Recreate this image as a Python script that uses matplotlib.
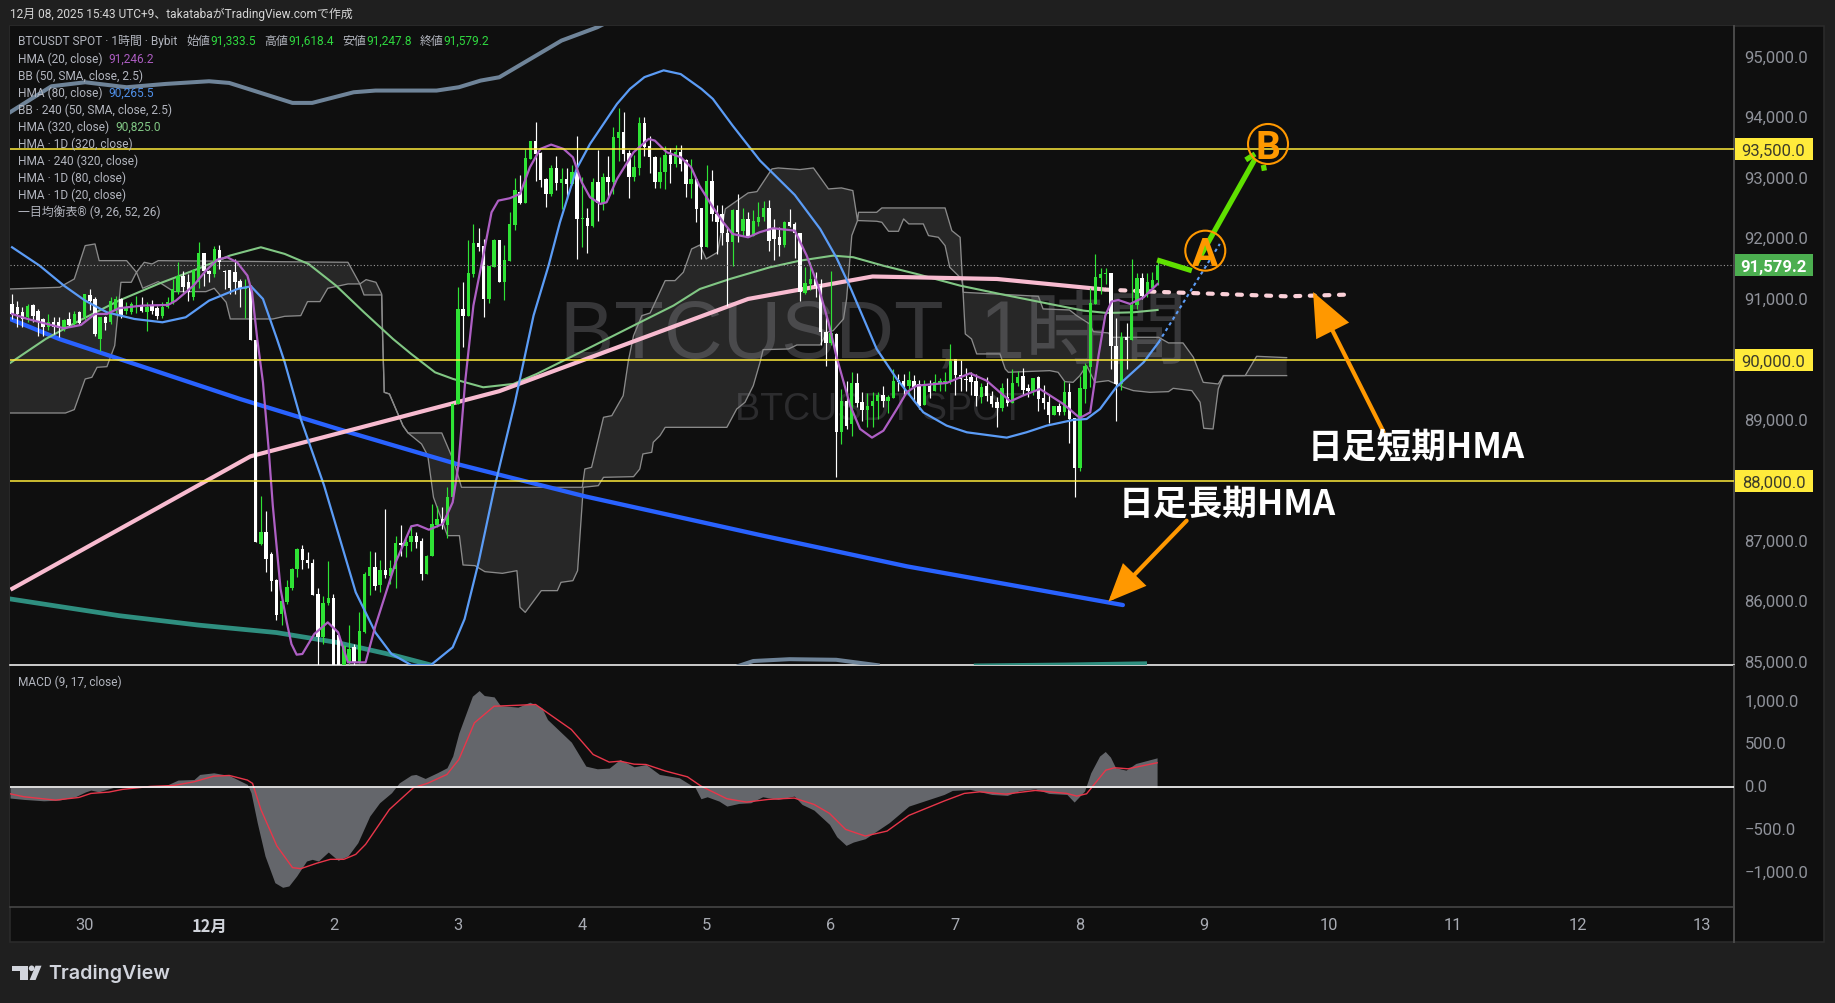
import matplotlib
matplotlib.use("Agg")
import matplotlib.pyplot as plt
from matplotlib.patches import Rectangle, Polygon, Ellipse, FancyArrowPatch
from matplotlib.lines import Line2D
from matplotlib.transforms import blended_transform_factory, ScaledTranslation

W, H = 1835, 1004
FONT = ['Roboto', 'Noto Sans CJK JP', 'DejaVu Sans']
CJK = ['Noto Sans CJK JP', 'DejaVu Sans']
plt.rcParams['font.family'] = FONT

start_hour = -38
opens = [90931,90876,90793,90711,90915,90821,90683,90545,90639,90628,
90545,90683,90600,90793,90711,91080,91014,90353,90711,90639,
90821,91014,90821,90793,90876,90915,90793,90915,90860,90738,
90876,90950,91124,91399,91289,91041,91289,91774,91482,91427,
91829,91482,91490,91455,91317,91179,91234,90340,86965,87168,
86800,86374,85800,86000,86231,86551,86881,86705,86650,86138,
85432,85985,86065,85460,84800,85000,85256,85019,85515,86440,
86578,86286,86534,86440,86550,86980,86936,86992,87100,87008,
86468,86770,87270,87380,87270,87735,89278,90848,90738,91430,
91940,91895,91010,91535,91990,91290,91645,92240,92775,92600,
93330,93630,93425,92995,92750,93175,92930,93000,92915,93120,
92335,92360,92215,92940,92600,93025,92950,93670,93770,93425,
93025,93170,93920,93535,93355,92940,93120,93390,93245,93440,
93315,92915,93000,92510,91870,92970,92420,92420,92100,91950,
92490,92130,92330,92055,92280,92365,92520,92170,92040,91910,
92290,92250,92100,91110,91265,91340,91235,90460,90285,90435,
88810,89333,88950,89625,89306,89185,89240,89320,89430,89320,
89380,89675,89665,89570,89665,89610,89267,89580,89500,89630,
89640,89665,90020,89750,89690,89720,89665,89390,89570,89415,
89305,89205,89390,89295,89620,89735,89537,89490,89720,89377,
89317,89095,89240,89140,89480,89040,88225,89525,89895,90930,
91360,91430,91445,90230,89610,90390,90340,90915,91355,91095,
91190,91333]
closes = [90766,90766,90683,90904,90738,90656,90545,90639,90545,90530,
90672,90584,90766,90617,91096,90986,90435,90711,90617,90986,
91014,90738,90876,90931,90904,90821,90876,90821,90738,90876,
90959,91179,91399,91207,91124,91500,91774,91482,91427,91840,
91620,91466,91190,91289,91179,91207,90340,86990,87168,86716,
86358,85790,86016,86248,86551,86881,86705,86650,86121,85432,
85995,86065,84700,84800,85283,85229,85008,85520,86468,86578,
86275,86534,86457,86562,86980,86950,86992,87100,86992,86468,
86770,87295,87380,87280,87735,89278,90848,90738,91443,91940,
91870,91010,91565,91995,91290,91650,92250,92815,92600,93340,
93630,93410,92985,92750,93175,92930,93000,92915,93120,92335,
92360,92225,92940,92600,93025,92950,93690,93770,93410,93025,
93190,93920,93520,93355,92940,93120,93390,93240,93440,93245,
92915,93000,92500,91870,92970,92420,92280,92100,91950,92490,
92115,92330,92050,92300,92365,92510,91975,92005,91910,92290,
92225,92100,91125,91280,91340,91235,90460,90285,90450,88810,
89320,88920,89620,89295,89185,89240,89335,89430,89330,89400,
89665,89640,89570,89680,89555,89250,89580,89480,89635,89650,
89650,89995,89750,89690,89680,89635,89405,89555,89415,89280,
89205,89535,89295,89620,89730,89515,89490,89700,89360,89295,
89095,89240,89140,89480,89030,88225,89535,89900,90940,91370,
91430,91440,90230,89600,90380,90340,90915,91355,91070,91290,
91330,91579]
highs = [91096,90986,90876,90931,90931,90850,90700,90760,90720,90720,
90680,90800,90810,90810,91100,91180,91040,90720,90740,91040,
91060,91030,90960,90960,91060,91040,90960,91000,90890,90960,
91040,91340,91620,91480,91420,91510,91950,91780,91500,91890,
91900,91500,91500,91680,91340,91340,91240,90340,87763,87510,
86830,86390,86030,86369,86560,86890,86947,86830,86720,86231,
86110,86690,86138,85460,85300,85620,85315,85835,86495,86855,
86830,86700,87540,86700,87100,87280,87050,87270,87160,87060,
86790,87620,87600,87580,87900,89290,91207,91290,91990,92250,
92190,92000,91565,92010,91995,91910,92450,93010,93070,93490,
93630,93935,93440,93010,93220,93380,93175,93180,93220,93700,
93030,92520,93010,93480,93100,93380,93860,94170,94100,93480,
93400,94020,94025,93700,93380,93360,93540,93510,93560,93550,
93320,93320,93000,92510,93220,93150,92560,92560,92200,92500,
92750,92510,92450,92490,92610,92640,92650,92340,92200,92300,
92500,92280,92100,91550,91620,91460,91350,90760,91480,90450,
89520,89650,89800,89790,89480,89460,89470,89480,89570,89430,
89860,89770,89770,89830,89760,89670,89670,89670,89770,89700,
89800,90265,90020,90000,89880,89800,89770,89620,89730,89500,
89400,89630,89710,89850,89830,89880,89600,89700,89740,89590,
89430,89240,89300,89660,89620,89040,89740,89960,91200,91750,
91530,91530,91445,90700,90460,90610,91680,91440,91440,91450,
91460,91618]
lows = [90683,90545,90545,90628,90628,90408,90400,90500,90440,90380,
90480,90545,90560,90590,90670,90830,90400,90150,90500,90600,
90780,90700,90760,90770,90780,90790,90480,90760,90680,90700,
90860,90930,91096,91124,90980,91000,91200,91234,91290,91370,
91510,91180,91100,91100,90880,90700,90330,86990,86950,86500,
86193,85713,85625,85980,86200,86413,86550,86570,86120,84500,
85310,85950,84400,84500,84700,84980,84950,85000,85500,86120,
86200,86165,86400,86300,86230,86770,86750,86850,86900,86370,
86460,86760,87250,87210,87060,87700,89278,90220,90738,91370,
91810,90720,90950,91535,91290,90990,91645,92150,92590,92600,
93330,92970,92860,92530,92710,92810,92500,92660,92890,91680,
91870,91780,92200,92310,92480,92680,92750,93300,93300,92680,
92970,93070,93380,93100,92850,92850,92830,92930,93200,93130,
92700,92690,92280,91680,91870,92300,91755,91900,90900,91560,
91950,92050,92040,92055,92220,92300,91800,91660,91730,91880,
92200,91690,90980,91090,91170,91050,90260,89900,90260,88065,
88617,88870,88750,89230,89000,88900,88900,89030,89230,89130,
89380,89490,89430,89430,89330,89200,89265,89380,89500,89500,
89500,89600,89420,89500,89500,89420,89250,89290,89330,89230,
88900,89170,89240,89295,89570,89430,89400,89430,89170,89190,
88970,89095,89100,89090,88630,87740,88170,89290,89560,90930,
91090,91260,89850,88990,89510,89860,90340,90850,91020,91050,
91190,91248]

# HMA 20
hma20_h = [-38,-35,-28,-24.7,-22,-19.7,-17.4,-12.9,-7.9,-6.4,-3,-0.6,1.6,3.5,5.4,7.4,8.3,9.3,10.4,11.5,12.3,13.8,15,15.9,16.9,18,20.3,22.9,24.9,26.8,30.2,32.1,36,39,40.2,42.4,45.1,47,48.1,49.4,51,52.9,54.5,55.8,58,60,61.9,63.9,66,68.4,70.2,71.9,73.5,75.5,76.7,78.7,81.9,84.8,86,88.3,91,93,94.6,97.2,99.2,101,104,106.2,108.8,113,115.3,117.5,119.5,121,123.7,125.6,127.9,130.1,132.7,134.6,136.5,142.3,146.8,150,154.6,157,160.3,164.8,168,170,171.6,172.9,174.1,175.4,177.7,180.3,183]
hma20_p = [90766,90683,90529,90584,90766,90766,90860,90904,90915,90986,91234,91482,91664,91703,91620,91400,91124,90353,89636,88534,87598,86220,85669,85310,85135,85146,85476,85669,85504,85008,85008,85612,86661,87256,87278,87200,87295,87653,88259,89636,90904,91730,92446,92639,92678,92750,93190,93493,93565,93493,93355,92942,92694,92584,92612,92997,93438,93659,93631,93438,93355,93190,92887,92529,92281,92088,92033,92116,92182,92143,91730,91234,90628,90077,89250,88865,88722,88837,89196,89471,89581,89625,89785,89664,89322,89416,89526,89278,89047,89140,90077,90738,90970,90997,90931,91041,91262]
# HMA 80
hma80_h = [-38,-32.7,-28,-23.9,-19.7,-14.4,-9,-4.5,0,5.5,8.1,10.4,13.1,14.6,17.7,22.2,28.3,32.1,35.2,39,42.8,47,49.3,52,55,59,62.6,65.5,67.7,70.9,73.5,78.7,81.2,84,87.7,91,95,97.2,101,106.3,113,117.9,121,123.7,128.8,132.7,137.8,142.3,146.2,153.9,157.7,161.6,166.7,169.3,171.9,175,180.3,183.2]
hma80_p = [91868,91565,91234,90986,90793,90683,90628,90711,90986,91179,91223,91014,90353,89967,89030,87928,86165,85500,85146,84964,84964,85256,85724,86661,87872,89300,90738,91565,92281,93163,93576,94237,94485,94680,94792,94730,94485,94320,93880,93300,92733,92171,91703,91207,90187,89691,89140,88920,88810,88722,88810,88920,89014,89030,89196,89554,89967,90298]
hma80_ext_h = [183.2,195]
hma80_ext_p = [90298,91923]
# HMA 320
hma320_h = [-38.3,-31.5,-25,-17.4,-9.8,-2.2,4,10,14.6,19.2,24.5,29.9,35.5,39,43.6,47.1,52.9,58.7,63.2,68.4,74.2,82.5,89.6,94.7,100.5,108.2,114,120.4,124.3,130,136.5,144.9,152.6,162.2,168.7,173.2,178.3,183]
hma320_p = [89960,90353,90656,90986,91262,91510,91730,91868,91758,91592,91234,90793,90352,90105,89801,89691,89554,89609,89774,89995,90242,90600,90904,91179,91344,91537,91647,91730,91703,91565,91427,91234,91096,90931,90821,90782,90793,90832]
# daily short-term HMA
hma1d20_h = [-38.3,8,56,104,128,152,173]
hma1d20_p = [86209,88413,89490,91014,91385,91344,91168]
hma1d20_ext_h = [173,183.7,208,219]
hma1d20_ext_p = [91168,91129,91057,91084]
# daily long-term HMA
hma1d320_h = [-38.4,-28.9,6,27,47.8,72.5,94.7,106.3,134.6,176.3]
hma1d320_p = [90683,90352,89360,88810,88286,87752,87332,87112,86595,85955]
# 240 HMA 320
hma240_h = [-38.3,-17.4,-2.2,13,24.5,35.9,42.8]
hma240_p = [86055,85780,85625,85500,85339,85119,84964]
hma240b_h = [148,165,180.5]
hma240b_p = [84950,84965,84985]
# BB 240 bands
bb_up_h = [-38.4,-30.4,-23.9,-15.9,-8.3,0,3.9,16.1,19.9,27.9,32.1,43.9,48.2,52.4,56,68,74.9,78]
bb_up_p = [94099,94529,94595,94513,94568,94612,94584,94254,94254,94430,94458,94458,94513,94623,94678,95284,95504,95640]
bb_lo_h = [102.2,105,112,121,129]
bb_lo_p = [84950,85030,85060,85050,84960]
# Ichimoku cloud
cloud_up_h = [-38.4,-28.8,-27.7,-26,-23.9,-22,-21.2,-15.9,-14,-12.5,-11,-9.8,26.8,29.1,30.3,32.2,33.3,33.5,33.8,34.8,37.4,38.4,44.9,47.3,48.7,72,72.5,73.8,76.1,77.7,79.9,80.9,81.9,83.5,85.1,88,89.9,91.5,93.1,94.7,95.9,97,98.1,99.6,104,105.7,108.6,109.8,114,116.6,119.5,122,124.2,125.1,125.3,128.8,129.8,142,143.3,144.9,145.4,145.5,160,160.9,166,167.4,169.9,170.6,173.5,174.2,183.2,185.1,187.9,189.9,191.8,194.7,195.7,199.9,202.1,207.9]
cloud_up_p = [91179,91207,91262,91344,91895,91923,91647,91647,91455,91620,91592,91647,91620,91262,91333,91289,91096,90353,89471,89443,88920,88799,88799,88314,87901,87901,88204,88231,89058,89085,89416,89994,90408,90738,90782,91317,91317,91455,91840,91906,91675,91730,91785,92502,92766,92788,93163,93179,93152,93179,92832,92849,92805,92309,92446,92446,92518,92518,92143,92033,91234,91124,91058,90849,90832,90738,90600,90474,90452,90380,90380,90287,90287,90050,89636,89609,89747,89747,90066,90044]
cloud_lo_h = [-38.4,-27.7,-26,-23.9,-22.6,-21.6,-19.7,-18.2,-17,-15,-14,-12.8,-9.8,-6.8,-0.6,1,3.3,4.1,12.3,14.6,17.7,19,21.4,22.9,26.8,29.1,29.9,33.3,33.5,33.8,34.8,37.4,38.4,41,42.2,43.3,46,48.3,49,51.3,53.2,56.6,59.4,60,61,64.1,67.2,67.9,70.2,71.1,72.2,75.1,76.1,81.9,83.1,83.7,85.4,85.7,87,88,99.9,101.8,103.4,105,106.3,106.9,111.8,113.4,117.9,119.2,120.4,122.4,123,124,125.1,125.3,128.8,129.8,131.1,133,134,135,137.8,138.8,140.7,142,142.9,145.2,145.4,145.9,147.1,148.1,152.6,153.6,154.2,162.2,163.8,165.1,166.7,168,169.3,170.9,173.5,176.4,178.3,181.5,185.1,186,189.6,191.2,191.9,193.7,194.7,195.7,199.9,207.9]
cloud_lo_p = [89129,89129,89185,89691,89719,89884,89895,90242,91289,91289,91455,91190,91300,91135,91135,91190,90959,90683,90683,90727,90738,90970,90970,91190,91262,91262,91080,91080,90353,89471,89443,88920,88799,88617,88424,87735,87102,87102,86617,86606,86507,86479,86523,85917,85834,86193,86193,86330,86358,86523,87901,87928,88066,88077,88204,88452,88479,88645,88755,88892,88892,89195,89306,89581,89967,90176,90187,90253,90253,90463,90490,90683,91014,92061,92309,92309,92298,92281,92132,92132,92336,92254,92254,92061,92033,91895,91537,91344,91234,90435,90353,90105,90105,89857,89802,89829,89802,89647,89636,89747,89912,89636,89664,89554,89499,89471,89482,89537,89499,89306,88876,88865,89526,89747,89747,89747]
# MACD
macd_h = [-38.4,-35.7,-31.9,-28.9,-25.8,-23.9,-22.8,-21.3,-18.2,-14.4,-8.3,-6,-2.9,-1.8,0.9,3.9,7.4,8.1,9.3,10.8,12.7,14.2,15.4,16.9,18.8,19.9,21.1,23,24.9,26.8,28.7,31,32.9,35.2,36.7,39,39.9,41.7,44,45.9,47,48.2,50.8,52.1,53.1,55,56.2,59.6,61.9,64.2,65.3,69.9,72.7,74.9,77.2,79.3,82,84.3,86.9,90.7,93.8,94.9,96.1,98.4,99.9,102.2,104.5,106.8,109.8,112.9,114.4,116.7,119.7,121.1,122.9,124.3,126.6,131.2,135,141.8,143.4,146.8,151,154,156.3,159.4,162,165.5,166.9,168.9,170.1,171.8,172.9,173.9,174.9,176.9,178.8,182.9]
macd_v = [-124,-140,-156,-148,-109,-54,-31,-51,4,16,23,86,93,152,171,140,35,-62,-412,-801,-1113,-1167,-1151,-1035,-860,-840,-860,-755,-852,-801,-646,-335,-179,-62,54,144,152,105,171,230,366,638,1066,1132,1074,1058,957,938,996,930,794,529,249,218,226,327,241,268,152,113,-4,-132,-109,-160,-218,-187,-179,-109,-140,-101,-198,-265,-432,-576,-677,-638,-599,-412,-218,-82,-35,-23,-82,-93,-39,-16,-70,-82,-171,-43,171,366,420,354,230,202,280,346]
signal_h = [-38.4,-35.7,-29.6,-25.1,-22.8,-19.3,-16.7,-11.3,-6.8,-2.9,0.9,3.9,7.4,8.4,10,13.1,16.1,17.7,20.7,23.4,26,28.3,30.2,34.8,39.4,42.1,45.9,48.2,51.2,55,63,69.9,74.1,77.2,79.3,82,84.3,88.1,92.3,94.9,99.9,103.7,107.9,112.9,116.7,119.7,122.8,126.6,130.8,135,141.8,145.7,148.7,153.7,159.4,165.5,167.4,169.3,173,174.7,177.3,182.9]
signal_v = [-74,-109,-148,-117,-70,-54,-23,12,23,66,132,140,86,47,-257,-685,-937,-949,-887,-840,-840,-782,-665,-257,-4,47,152,327,755,949,969,677,385,296,307,272,268,191,124,16,-132,-171,-140,-124,-198,-303,-490,-568,-510,-327,-159,-70,-51,-78,-35,-70,-101,-74,202,230,218,288]
# drawn forecast paths
path1_h = [182.9,189.6]
path1_p = [91658,91481]
path2_h = [190.4,201.8]
path2_p = [91592,93327]
tick_h = [200,201.8]
tick_p = [93312,93410]
tick2_h = [203.4,203.6]
tick2_p = [93228,93134]
# levels
level_prices = [93500,90000,88000]
level_labels = ['93,500.0','90,000.0','88,000.0']
last_price = 91579.2
y_ticks = [85000,86000,87000,88000,89000,90000,91000,92000,93000,94000,95000]
y_ticklabels = ['85,000.0','86,000.0','87,000.0','88,000.0','89,000.0','90,000.0','91,000.0','92,000.0','93,000.0','94,000.0','95,000.0']
macd_ticks = [-1000,-500,0,500,1000]
macd_ticklabels = ['−1,000.0','−500.0','0.0','500.0','1,000.0']
x_ticks = [-24,0,24,48,72,96,120,144,168,192,216,240,264,288]
x_ticklabels = ['30','12月','2','3','4','5','6','7','8','9','10','11','12','13']

BG = '#1f1f1f'; PANE = '#0f0f0f'
LEFT, RIGHT, TOP, MID, BOT, TIMEB, EDGE = 10, 1734, 27, 666, 908, 943, 1824
fig = plt.figure(figsize=(W/100, H/100), dpi=100, facecolor=BG)
def fx(x): return x/W
def fy(y): return 1-y/H
def pts(p): return [(fx(a), fy(b)) for a, b in p]
fig.add_artist(Rectangle((fx(LEFT), fy(TIMEB)), (EDGE-LEFT)/W, (TIMEB-TOP)/H, transform=fig.transFigure, facecolor=PANE, edgecolor='#2a2a2a', lw=1.2, zorder=-5))
fig.add_artist(Line2D([fx(RIGHT), fx(RIGHT)], [fy(BOT), fy(TIMEB)], transform=fig.transFigure, color='#4a4a4a', lw=1.4))
ax = fig.add_axes([fx(LEFT), fy(MID), (RIGHT-LEFT)/W, (MID-TOP)/H], facecolor=PANE)
mx = fig.add_axes([fx(LEFT), fy(BOT), (RIGHT-LEFT)/W, (BOT-MID-1)/H], facecolor=PANE)
XL = (-38.4, 294.2)
ax.set_xlim(*XL); mx.set_xlim(*XL)
ax.set_ylim(84964, 95525)
mx.set_ylim(-1397, 1419)
for a in (ax, mx):
    for s in ('top', 'left'):
        a.spines[s].set_visible(False)
    a.spines['right'].set_color('#4a4a4a')
    a.spines['right'].set_linewidth(1.4)
ax.spines['bottom'].set_color('#ffffff'); ax.spines['bottom'].set_linewidth(1.1)
mx.spines['bottom'].set_color('#4a4a4a'); mx.spines['bottom'].set_linewidth(1.1)
ax.set_xticks([])
ax.yaxis.tick_right()
ax.set_yticks(y_ticks); ax.set_yticklabels(y_ticklabels)
ax.tick_params(axis='y', length=0, pad=7.5, colors='#8f929a', labelsize=12)
mx.yaxis.tick_right()
mx.set_yticks(macd_ticks); mx.set_yticklabels(macd_ticklabels)
mx.tick_params(axis='y', length=0, pad=7.5, colors='#8f929a', labelsize=12)
mx.set_xticks(x_ticks); mx.set_xticklabels(x_ticklabels)
mx.tick_params(axis='x', length=0, pad=7, colors='#a8abb3', labelsize=11.8)
lift = ScaledTranslation(0, 1.6/72*0.72*1.39, fig.dpi_scale_trans)
for a in (ax, mx):
    for lb in a.get_yticklabels():
        lb.set_transform(lb.get_transform() + lift)
for t_ in mx.get_xticklabels():
    if t_.get_text() == '12月':
        t_.set_fontweight('bold'); t_.set_color('#d0d3da'); t_.set_fontfamily(CJK)

# watermark
ax.text((560-209)/5.183, 90070, 'BTCUSDT, 1時間', fontsize=58.5, color='#363638', family=['Liberation Sans', 'Noto Sans CJK JP'], va='baseline', ha='left', zorder=1)
ax.text((735-209)/5.183, 89030, 'BTCUSDT SPOT', fontsize=27, color='#2c2c2e', family=['Liberation Sans'], va='baseline', ha='left', zorder=1)

# cloud
poly = list(zip(cloud_up_h, cloud_up_p)) + list(zip(cloud_lo_h, cloud_lo_p))[::-1]
ax.add_patch(Polygon(poly, closed=True, facecolor='#ffffff', alpha=0.10, edgecolor='none', zorder=2))
ax.plot(cloud_up_h, cloud_up_p, color='#8a8a8a', lw=0.95, zorder=2.2)
ax.plot(cloud_lo_h, cloud_lo_p, color='#8a8a8a', lw=0.95, zorder=2.2)

# heavy lines
ax.plot(bb_up_h, bb_up_p, color='#6f8499', lw=2.9, zorder=3)
ax.plot(bb_lo_h, bb_lo_p, color='#6f8499', lw=2.9, zorder=3)
ax.plot(hma240_h, hma240_p, color='#2f8f80', lw=3.4, zorder=3)
ax.plot(hma240b_h, hma240b_p, color='#2f8f80', lw=3.4, zorder=3)
ax.plot(hma1d320_h, hma1d320_p, color='#2962ff', lw=3.1, zorder=3, solid_capstyle='round')
ax.plot(hma320_h, hma320_p, color='#81c784', lw=1.5, zorder=3.2)
ax.plot(hma1d20_h, hma1d20_p, color='#f8bbd0', lw=3.0, zorder=3.4, solid_capstyle='butt')
ax.plot(hma1d20_ext_h, hma1d20_ext_p, color='#fbd0d8', lw=3.0, zorder=3.4, linestyle=(0, (1.2, 2.3)), dash_capstyle='round')

# candles
hours = list(range(start_hour, start_hour+len(opens)))
up_col, dn_col = '#2fe335', '#ffffff'
cols = [up_col if c >= o else dn_col for o, c in zip(opens, closes)]
ax.vlines(hours, lows, highs, colors=cols, lw=0.85, zorder=4)
ax.bar(hours, [abs(c-o) for o, c in zip(opens, closes)], bottom=[min(o, c) for o, c in zip(opens, closes)], width=0.66, color=cols, linewidth=0, zorder=4.1)

# medium lines
ax.plot(hma80_h, hma80_p, color='#5b9cf6', lw=1.6, zorder=5)
ax.plot(hma80_ext_h, hma80_ext_p, color='#5b9cf6', lw=1.5, linestyle=(0, (1.6, 1.6)), zorder=5)
ax.plot(hma20_h, hma20_p, color='#ae5fc4', lw=1.6, zorder=5.2)

# levels
ax.axhline(last_price, color='#9a9a9a', lw=0.8, linestyle=(0, (1, 2)), zorder=5.5)
for p in level_prices:
    ax.axhline(p, color='#ffeb3b', lw=1.1, zorder=5.6)
tb = blended_transform_factory(ax.transAxes, ax.transData)
bx0 = 1 + 0.5/(RIGHT-LEFT); bw = 78/(RIGHT-LEFT)
bh = 22/0.0605
for p, lab in zip(level_prices, level_labels):
    ax.add_patch(Rectangle((bx0, p-bh/2), bw, bh, transform=tb, facecolor='#ffeb3b', edgecolor='none', clip_on=False, zorder=8))
    ax.text(bx0+bw/2, p, lab, transform=tb, color='#3c3c2a', fontsize=12, ha='center', va='center_baseline', clip_on=False, zorder=9)
ax.add_patch(Rectangle((bx0, last_price-bh/2), bw, bh, transform=tb, facecolor='#4caf50', edgecolor='none', clip_on=False, zorder=8))
ax.text(bx0+bw/2, last_price, '91,579.2', transform=tb, color='#ffffff', fontsize=12, fontweight='bold', ha='center', va='center_baseline', clip_on=False, zorder=9)

# forecast drawing
GR = '#5fe000'; OR = '#ff9800'
ax.plot(path1_h, path1_p, color=GR, lw=3.8, solid_capstyle='butt', zorder=6)
ax.plot(path2_h, path2_p, color=GR, lw=3.8, solid_capstyle='butt', zorder=6)
ax.plot(tick_h, tick_p, color=GR, lw=3.8, solid_capstyle='butt', zorder=6)
ax.plot(tick2_h, tick2_p, color=GR, lw=3.8, solid_capstyle='butt', zorder=6)
for h, p, s in [(192.2, 91812, 'A'), (204.3, 93575, 'B')]:
    ax.add_patch(Ellipse((h, p), 40/5.183, 40/0.0605, facecolor='none', edgecolor=OR, lw=1.5, zorder=7))
    ax.text(h, p, s, color=OR, fontsize=28, family=['Roboto'], fontweight='bold', ha='center', va='center_baseline', zorder=7.2)

ax.add_patch(FancyArrowPatch((226.6, 88815), (213, 91129), arrowstyle='-|>,head_length=26,head_width=11', mutation_scale=1, color=OR, lw=3.0, shrinkA=0, shrinkB=0, zorder=7, joinstyle='miter'))
ax.add_patch(FancyArrowPatch((188.6, 87349), (173.5, 86010), arrowstyle='-|>,head_length=22,head_width=9.5', mutation_scale=1, color=OR, lw=3.0, shrinkA=0, shrinkB=0, zorder=7, joinstyle='miter'))
ax.text((1307.5-209)/5.183, 90000+(361.3-448)/0.0605, '日足短期HMA', color='#ffffff', fontsize=25, fontweight='bold', family=CJK, ha='left', va='center', zorder=7.5)
ax.text((1118.5-209)/5.183, 90000+(361.3-504)/0.0605, '日足長期HMA', color='#ffffff', fontsize=25, fontweight='bold', family=CJK, ha='left', va='center', zorder=7.5)

# MACD pane
mx.fill_between(macd_h, macd_v, 0, color='#64666b', linewidth=0, zorder=2)
mx.plot(signal_h, signal_v, color='#e8364a', lw=1.0, zorder=3)
mx.axhline(0, color='#ffffff', lw=1.2, zorder=4)

# header / legends
TXT = '#b2b5be'
def t(x, y, s, c=TXT, size=8.6, **k):
    fig.text(fx(x), fy(y), s, color=c, fontsize=size, va='center', ha='left', zorder=20, **k)
t(10, 14.5, '12月 08, 2025 15:43 UTC+9、takatabaがTradingView.comで作成', '#d6d6d6')
ohlc_c = '#2fd83f'
t(18, 41.7, 'BTCUSDT SPOT · 1時間 · Bybit')
for x0, lab, x1, val in [(186.6, '始値', 210.8, '91,333.5'), (264, '高値', 288, '91,618.4'), (342, '安値', 366, '91,247.8'), (420, '終値', 443.7, '91,579.2')]:
    t(x0, 41.7, lab); t(x1, 41.7, val, ohlc_c)
rows = ['HMA (20, close)', 'BB (50, SMA, close, 2.5)', 'HMA (80, close)', 'BB · 240 (50, SMA, close, 2.5)', 'HMA (320, close)', 'HMA · 1D (320, close)', 'HMA · 240 (320, close)', 'HMA · 1D (80, close)', 'HMA · 1D (20, close)', '一目均衡表® (9, 26, 52, 26)']
for i, r in enumerate(rows):
    t(18, 59+17*i, r)
t(108.7, 59, '91,246.2', '#ab5cc0')
t(108.7, 93, '90,265.5', '#4f8fe8')
t(115.5, 127, '90,825.0', '#81c784')
t(18, 682, 'MACD (9, 17, close)')

# logo
LOGO = '#d1d4dc'
fig.add_artist(Polygon(pts([(12, 966.7), (27.7, 966.7), (27.7, 981), (19.8, 981), (19.8, 971.7), (12, 971.7)]), closed=True, transform=fig.transFigure, facecolor=LOGO, edgecolor='none'))
fig.add_artist(Polygon(pts([(35.5, 966.7), (41.5, 966.7), (35.6, 981), (29.6, 981)]), closed=True, transform=fig.transFigure, facecolor=LOGO, edgecolor='none'))
fig.add_artist(Ellipse((fx(31.6), fy(969.3)), 5.6/W, 5.6/H, transform=fig.transFigure, facecolor=LOGO, edgecolor='none'))
fig.text(fx(48.5), fy(974), 'TradingView', color=LOGO, fontsize=14.2, family=['Inter', 'Roboto'], fontweight='semibold', va='center', ha='left')

fig.savefig('out.png', dpi=100, facecolor=BG)
